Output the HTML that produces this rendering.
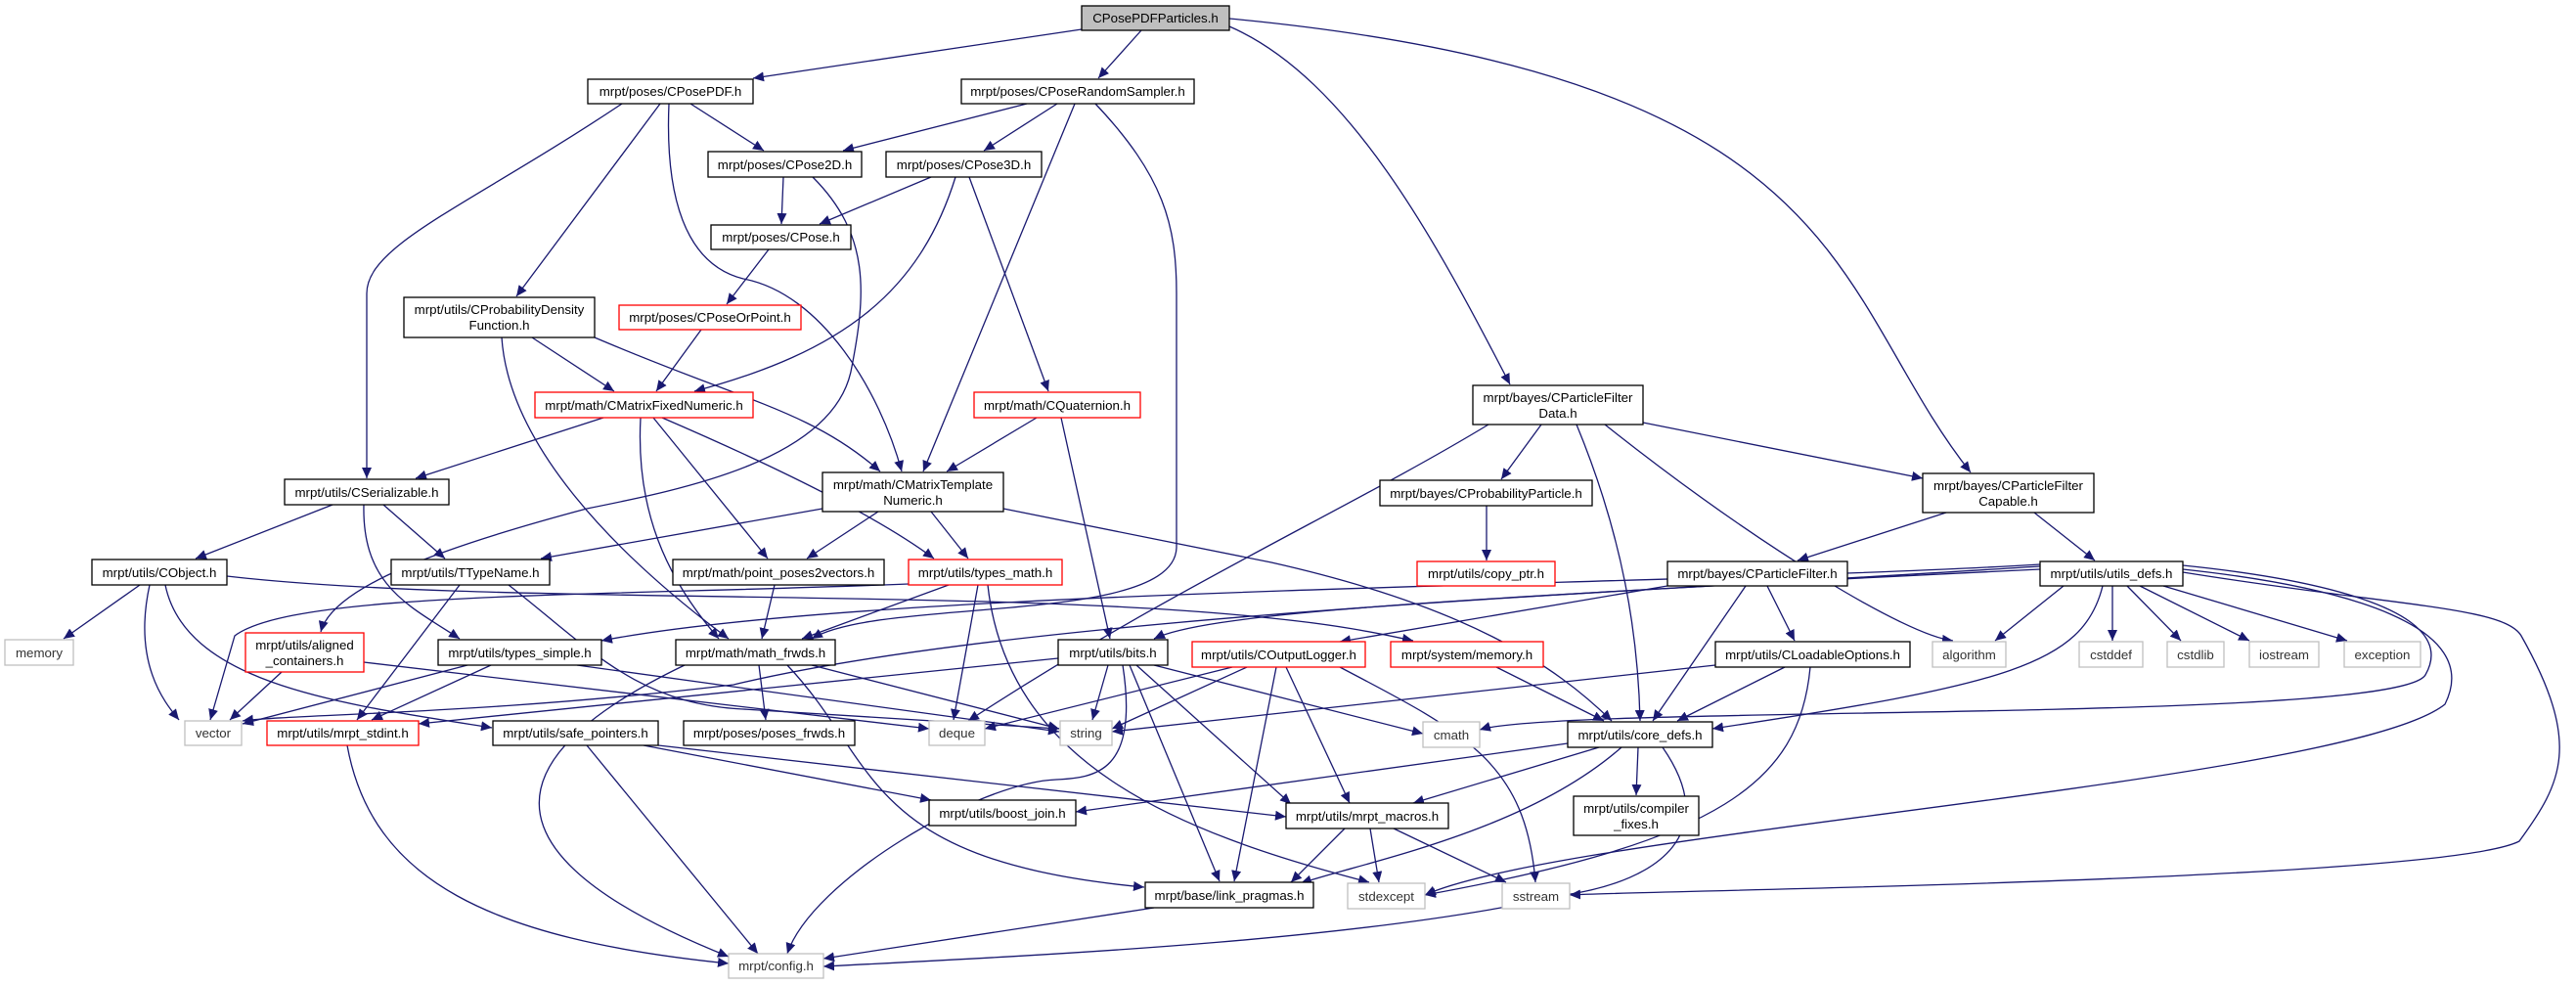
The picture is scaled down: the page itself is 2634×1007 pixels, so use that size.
<!DOCTYPE html>
<html><head><meta charset="utf-8"><style>
html,body{margin:0;padding:0;background:#fff;}
svg{display:block;}
text{font-family:"Liberation Sans",Arial,sans-serif;font-size:13.3px;text-anchor:middle;}
.e{fill:none;stroke:#191970;stroke-width:1.3;marker-end:url(#a);}
.n{fill:#fff;stroke:#000;stroke-width:1.3;}
.r{fill:#fff;stroke:#ff0000;stroke-width:1.3;}
.g{fill:#fff;stroke:#bfbfbf;stroke-width:1.3;}
.s{fill:#666;}
.gs{fill:#ddd;}
</style></head><body>
<svg width="2634" height="1007" viewBox="0 0 2634 1007" xmlns="http://www.w3.org/2000/svg">
<defs><marker id="a" markerUnits="userSpaceOnUse" markerWidth="12" markerHeight="10" refX="11" refY="5" orient="auto"><path d="M0,0 L11,5 L0,10 z" fill="#191970"/></marker></defs>
<g>
<path class="e" d="M1106,30 L770,80"/>
<path class="e" d="M1167,31 L1123,80"/>
<path class="e" d="M1257,27 C1380,80 1470,250 1544,393"/>
<path class="e" d="M1257,19 C1900,80 1870,300 2015,483"/>
<path class="e" d="M706,106 L781,154"/>
<path class="e" d="M636,106 C480,210 375,250 375,300 L375,489"/>
<path class="e" d="M675,106 L528,303"/>
<path class="e" d="M684,106 C680,200 700,270 760,285 C840,300 900,400 922,482"/>
<path class="e" d="M1050,106 L862,154"/>
<path class="e" d="M1081,106 L1006,154"/>
<path class="e" d="M1099,106 L944,482"/>
<path class="e" d="M1120,106 C1190,180 1203,230 1203,300 L1203,560 C1200,640 900,610 830,653"/>
<path class="e" d="M801,181 L799,229"/>
<path class="e" d="M831,181 C890,240 886,300 870,380 C850,470 700,500 600,520 C450,560 340,600 328,646"/>
<path class="e" d="M952,181 L838,229"/>
<path class="e" d="M977,181 C940,300 860,360 710,400"/>
<path class="e" d="M991,181 L1072,400"/>
<path class="e" d="M786,255 L743,311"/>
<path class="e" d="M717,337 L671,400"/>
<path class="e" d="M544,345 L628,400"/>
<path class="e" d="M608,345 C760,410 830,420 900,482"/>
<path class="e" d="M513,345 C520,450 620,560 745,653"/>
<path class="e" d="M617,427 L425,489"/>
<path class="e" d="M655,427 C650,520 680,590 735,653"/>
<path class="e" d="M668,427 L785,571"/>
<path class="e" d="M677,427 C800,480 900,530 955,571"/>
<path class="e" d="M1060,427 L968,482"/>
<path class="e" d="M1085,427 L1135,653"/>
<path class="e" d="M340,516 L200,571"/>
<path class="e" d="M392,516 L455,571"/>
<path class="e" d="M372,516 C370,600 420,620 470,653"/>
<path class="e" d="M841,520 L553,571"/>
<path class="e" d="M898,523 L825,571"/>
<path class="e" d="M952,523 L990,571"/>
<path class="e" d="M1026,520 L1300,575 C1500,620 1590,680 1648,737"/>
<path class="e" d="M143,598 L65,653"/>
<path class="e" d="M153,598 C135,680 170,720 183,736"/>
<path class="e" d="M169,598 C190,700 350,720 503,744"/>
<path class="e" d="M232,589 C500,620 1000,600 1300,632 C1380,640 1420,650 1445,655"/>
<path class="e" d="M470,598 L365,736"/>
<path class="e" d="M520,598 C600,660 650,720 760,725 L1083,745"/>
<path class="e" d="M929,597 C600,610 300,605 240,650 L215,736"/>
<path class="e" d="M970,598 L820,653"/>
<path class="e" d="M1000,598 L975,736"/>
<path class="e" d="M1010,598 C1030,780 1200,850 1400,902"/>
<path class="e" d="M792,598 L779,653"/>
<path class="e" d="M478,680 L248,740"/>
<path class="e" d="M502,680 L380,736"/>
<path class="e" d="M590,680 L1083,748"/>
<path class="e" d="M288,687 L235,736"/>
<path class="e" d="M372,677 L950,745"/>
<path class="e" d="M700,680 C450,800 550,900 745,978"/>
<path class="e" d="M776,680 L783,736"/>
<path class="e" d="M830,680 L1083,745"/>
<path class="e" d="M805,680 C900,780 880,880 1170,907"/>
<path class="e" d="M355,762 C380,900 500,960 745,985"/>
<path class="e" d="M600,762 L775,975"/>
<path class="e" d="M658,762 L952,818"/>
<path class="e" d="M673,762 L1315,835"/>
<path class="e" d="M1082,673 L428,740"/>
<path class="e" d="M1133,680 L1117,736"/>
<path class="e" d="M1148,680 C1165,790 1120,795 1080,797 C1000,800 830,900 805,975"/>
<path class="e" d="M1155,680 L1247,901"/>
<path class="e" d="M1162,680 L1320,822"/>
<path class="e" d="M1180,680 L1455,750"/>
<path class="e" d="M1260,682 L1007,745"/>
<path class="e" d="M1275,682 L1137,745"/>
<path class="e" d="M1305,682 L1262,901"/>
<path class="e" d="M1315,682 L1380,821"/>
<path class="e" d="M1370,682 C1500,750 1560,780 1570,902"/>
<path class="e" d="M1530,682 L1640,737"/>
<path class="e" d="M1522,434 C1380,520 1200,600 990,737"/>
<path class="e" d="M1576,434 L1535,490"/>
<path class="e" d="M1612,434 C1660,550 1675,650 1677,737"/>
<path class="e" d="M1641,434 C1800,560 1950,650 1997,655"/>
<path class="e" d="M1680,432 L1966,489"/>
<path class="e" d="M1520,517 L1520,573"/>
<path class="e" d="M1990,524 L1838,573"/>
<path class="e" d="M2080,524 L2142,573"/>
<path class="e" d="M1705,599 L1370,656"/>
<path class="e" d="M1785,599 L1690,737"/>
<path class="e" d="M1807,599 L1835,655"/>
<path class="e" d="M2086,577 C1700,600 900,600 615,655"/>
<path class="e" d="M2086,579 C1600,610 1250,620 1180,653"/>
<path class="e" d="M2086,582 C1500,610 1000,640 750,700 C500,730 300,730 248,737"/>
<path class="e" d="M2110,599 L2040,655"/>
<path class="e" d="M2160,599 L2160,655"/>
<path class="e" d="M2175,599 L2230,655"/>
<path class="e" d="M2188,599 L2300,655"/>
<path class="e" d="M2212,599 L2400,655"/>
<path class="e" d="M2150,599 C2130,680 2050,700 1751,745"/>
<path class="e" d="M2232,578 C2350,590 2520,620 2480,690 C2450,740 1600,720 1513,746"/>
<path class="e" d="M2232,582 C2400,600 2540,640 2500,720 C2400,800 1600,850 1457,915"/>
<path class="e" d="M2232,585 C2450,620 2560,620 2578,650 C2640,760 2620,800 2576,860 C2500,900 1700,910 1605,915"/>
<path class="e" d="M1754,680 L1137,748"/>
<path class="e" d="M1825,682 L1715,737"/>
<path class="e" d="M1851,682 C1840,800 1760,860 1457,915"/>
<path class="e" d="M1603,760 L1100,830"/>
<path class="e" d="M1635,764 L1445,821"/>
<path class="e" d="M1658,764 C1560,850 1400,880 1330,903"/>
<path class="e" d="M1675,764 L1673,813"/>
<path class="e" d="M1700,764 C1760,850 1700,900 1600,915 C1400,960 1100,975 842,988"/>
<path class="e" d="M1375,847 L1320,902"/>
<path class="e" d="M1401,847 L1410,902"/>
<path class="e" d="M1425,847 L1540,902"/>
<path class="e" d="M1180,928 L842,980"/>
</g>
<g>
<rect x="1106" y="6" width="151" height="25" fill="#bfbfbf" stroke="#000" stroke-width="1.3"/><text x="1181.5" y="23">CPosePDFParticles.h</text>
<rect class="n" x="601" y="81" width="169" height="25"/><text x="685.5" y="98">mrpt/poses/CPosePDF.h</text>
<rect class="n" x="983" y="81" width="238" height="25"/><text x="1102" y="98">mrpt/poses/CPoseRandomSampler.h</text>
<rect class="n" x="724" y="155" width="157" height="26"/><text x="802.5" y="173">mrpt/poses/CPose2D.h</text>
<rect class="n" x="906" y="155" width="159" height="26"/><text x="985.5" y="173">mrpt/poses/CPose3D.h</text>
<rect class="n" x="727" y="230" width="143" height="25"/><text x="798.5" y="247">mrpt/poses/CPose.h</text>
<rect class="n" x="413" y="304" width="195" height="41"/><text x="510.5" y="321">mrpt/utils/CProbabilityDensity</text><text x="510.5" y="337">Function.h</text>
<rect class="r" x="633" y="312" width="186" height="25"/><text x="726" y="329">mrpt/poses/CPoseOrPoint.h</text>
<rect class="r" x="547" y="401" width="223" height="26"/><text x="658.5" y="419">mrpt/math/CMatrixFixedNumeric.h</text>
<rect class="r" x="996" y="401" width="170" height="26"/><text x="1081" y="419">mrpt/math/CQuaternion.h</text>
<rect class="n" x="291" y="490" width="168" height="26"/><text x="375" y="508">mrpt/utils/CSerializable.h</text>
<rect class="n" x="841" y="483" width="185" height="40"/><text x="933.5" y="500">mrpt/math/CMatrixTemplate</text><text x="933.5" y="516">Numeric.h</text>
<rect class="n" x="1506" y="394" width="174" height="40"/><text x="1593" y="411">mrpt/bayes/CParticleFilter</text><text x="1593" y="427">Data.h</text>
<rect class="n" x="1966" y="484" width="175" height="40"/><text x="2053.5" y="501">mrpt/bayes/CParticleFilter</text><text x="2053.5" y="517">Capable.h</text>
<rect class="n" x="1411" y="491" width="217" height="26"/><text x="1519.5" y="509">mrpt/bayes/CProbabilityParticle.h</text>
<rect class="n" x="94" y="572" width="138" height="26"/><text x="163" y="590">mrpt/utils/CObject.h</text>
<rect class="n" x="400" y="572" width="162" height="26"/><text x="481" y="590">mrpt/utils/TTypeName.h</text>
<rect class="n" x="688" y="572" width="216" height="26"/><text x="796" y="590">mrpt/math/point_poses2vectors.h</text>
<rect class="r" x="929" y="572" width="157" height="26"/><text x="1007.5" y="590">mrpt/utils/types_math.h</text>
<rect class="r" x="1449" y="574" width="141" height="25"/><text x="1519.5" y="591">mrpt/utils/copy_ptr.h</text>
<rect class="n" x="1705" y="574" width="184" height="25"/><text x="1797" y="591">mrpt/bayes/CParticleFilter.h</text>
<rect class="n" x="2086" y="574" width="146" height="25"/><text x="2159" y="591">mrpt/utils/utils_defs.h</text>
<rect class="g" x="5" y="654" width="70" height="26"/><text x="40" y="672" fill="#333">memory</text>
<rect class="r" x="251" y="647" width="121" height="40"/><text x="311.5" y="664">mrpt/utils/aligned</text><text x="311.5" y="680">_containers.h</text>
<rect class="n" x="448" y="654" width="167" height="26"/><text x="531.5" y="672">mrpt/utils/types_simple.h</text>
<rect class="n" x="691" y="654" width="163" height="26"/><text x="772.5" y="672">mrpt/math/math_frwds.h</text>
<rect class="n" x="1082" y="654" width="112" height="26"/><text x="1138" y="672">mrpt/utils/bits.h</text>
<rect class="r" x="1219" y="656" width="177" height="26"/><text x="1307.5" y="674">mrpt/utils/COutputLogger.h</text>
<rect class="r" x="1422" y="656" width="156" height="26"/><text x="1500" y="674">mrpt/system/memory.h</text>
<rect class="n" x="1754" y="656" width="199" height="26"/><text x="1853.5" y="674">mrpt/utils/CLoadableOptions.h</text>
<rect class="g" x="1976" y="656" width="75" height="26"/><text x="2013.5" y="674" fill="#333">algorithm</text>
<rect class="g" x="2126" y="656" width="65" height="26"/><text x="2158.5" y="674" fill="#333">cstddef</text>
<rect class="g" x="2216" y="656" width="58" height="26"/><text x="2245" y="674" fill="#333">cstdlib</text>
<rect class="g" x="2300" y="656" width="71" height="26"/><text x="2335.5" y="674" fill="#333">iostream</text>
<rect class="g" x="2397" y="656" width="78" height="26"/><text x="2436" y="674" fill="#333">exception</text>
<rect class="g" x="189" y="737" width="58" height="25"/><text x="218" y="754" fill="#333">vector</text>
<rect class="r" x="273" y="737" width="155" height="25"/><text x="350.5" y="754">mrpt/utils/mrpt_stdint.h</text>
<rect class="n" x="504" y="737" width="169" height="25"/><text x="588.5" y="754">mrpt/utils/safe_pointers.h</text>
<rect class="n" x="699" y="737" width="175" height="25"/><text x="786.5" y="754">mrpt/poses/poses_frwds.h</text>
<rect class="g" x="950" y="737" width="57" height="25"/><text x="978.5" y="754" fill="#333">deque</text>
<rect class="g" x="1084" y="737" width="53" height="25"/><text x="1110.5" y="754" fill="#333">string</text>
<rect class="g" x="1455" y="738" width="58" height="26"/><text x="1484" y="756" fill="#333">cmath</text>
<rect class="n" x="1603" y="738" width="148" height="26"/><text x="1677" y="756">mrpt/utils/core_defs.h</text>
<rect class="n" x="950" y="818" width="150" height="26"/><text x="1025" y="836">mrpt/utils/boost_join.h</text>
<rect class="n" x="1315" y="821" width="166" height="26"/><text x="1398" y="839">mrpt/utils/mrpt_macros.h</text>
<rect class="n" x="1609" y="814" width="128" height="40"/><text x="1673" y="831">mrpt/utils/compiler</text><text x="1673" y="847">_fixes.h</text>
<rect class="n" x="1171" y="902" width="172" height="26"/><text x="1257" y="920">mrpt/base/link_pragmas.h</text>
<rect class="g" x="1378" y="903" width="79" height="26"/><text x="1417.5" y="921" fill="#333">stdexcept</text>
<rect class="g" x="1536" y="903" width="69" height="26"/><text x="1570.5" y="921" fill="#333">sstream</text>
<rect class="g" x="745" y="975" width="97" height="25"/><text x="793.5" y="992" fill="#333">mrpt/config.h</text>
</g>
</svg>
</body></html>
